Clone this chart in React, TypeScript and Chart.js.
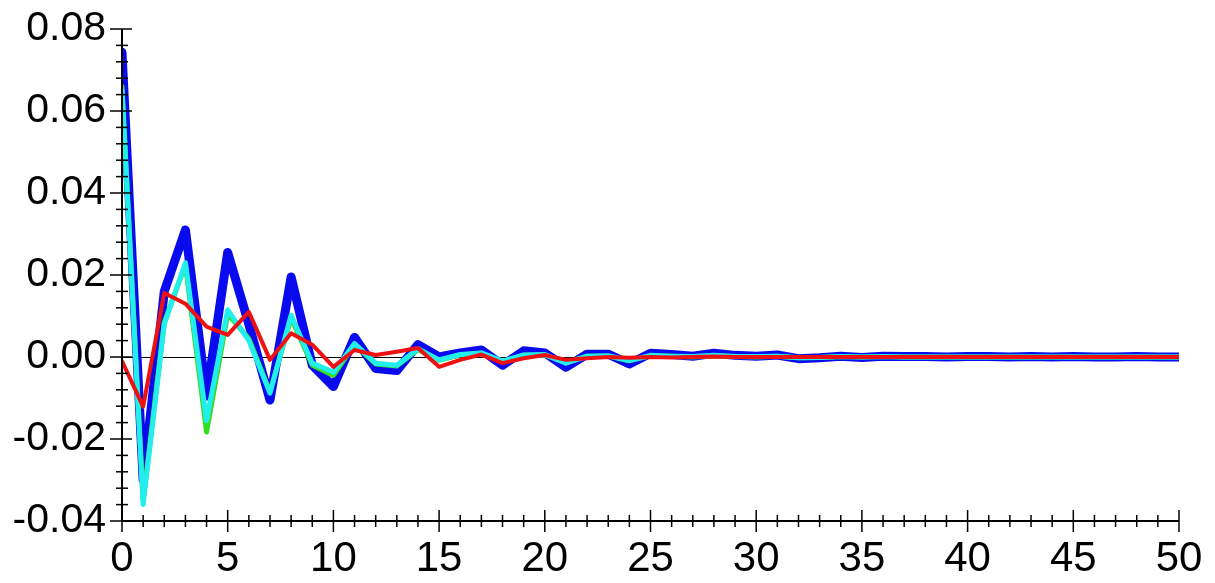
import React, { useEffect, useRef } from "react";
import { Chart, registerables } from "chart.js";

Chart.register(...registerables);

const lags: number[] = Array.from({ length: 51 }, (_, i) => i);

const blueValues: number[] = [
  0.0743, -0.030, 0.016, 0.031, -0.0095, 0.0255, 0.008, -0.0105, 0.0195, -0.002,
  -0.0072, 0.0048, -0.0028, -0.0033, 0.003, 0.0, 0.001, 0.0017, -0.002, 0.0015,
  0.001, -0.0025, 0.0007, 0.0007, -0.0017, 0.0009, 0.0006, 0.0002, 0.0009, 0.0004,
  0.0002, 0.0005, -0.0004, -0.0002, 0.0002, -0.0001, 0.0002, 0.0001, 0.0001, 0.0,
  0.0001, 0.0001, 0.0, 0.0001, 0.0, 0.0001, 0.0, 0.0, 0.0001, 0.0, 0.0,
];

const greenValues: number[] = [
  0.066, -0.035, 0.0085, 0.0225, -0.0183, 0.0105, 0.0045, -0.0085, 0.0095, -0.002,
  -0.0045, 0.003, -0.0017, -0.0022, 0.0018, -0.0008, 0.0005, 0.0009, -0.0011, 0.0004,
  0.0005, -0.0014, 0.0002, 0.0002, -0.0009, 0.0003, 0.0002, 0.0, 0.0003, 0.0001,
  0.0, 0.0002, -0.0002, -0.0001, 0.0001, 0.0, 0.0001, 0.0, 0.0, 0.0,
  0.0, 0.0, 0.0, 0.0, 0.0, 0.0, 0.0, 0.0, 0.0, 0.0, 0.0,
];

const cyanValues: number[] = [
  0.065, -0.036, 0.008, 0.023, -0.0155, 0.0115, 0.004, -0.0088, 0.0102, -0.0015,
  -0.0037, 0.0033, -0.0015, -0.002, 0.002, -0.0007, 0.0006, 0.001, -0.001, 0.0005,
  0.0006, -0.0015, 0.0002, 0.0003, -0.0009, 0.0004, 0.0002, 0.0001, 0.0004, 0.0001,
  0.0001, 0.0002, -0.0002, -0.0001, 0.0001, 0.0, 0.0001, 0.0, 0.0, 0.0,
  0.0, 0.0, 0.0, 0.0, 0.0, 0.0, 0.0, 0.0, 0.0, 0.0, 0.0,
];

const redValues: number[] = [
  -0.001, -0.0121, 0.0156, 0.013, 0.0074, 0.0054, 0.011, -0.0007, 0.0058, 0.003,
  -0.0024, 0.0017, 0.0005, 0.0013, 0.0022, -0.0024, -0.0007, 0.0006, -0.0015, -0.0003,
  0.0005, -0.0007, -0.0003, 0.0, -0.0002, 0.0, -0.0001, 0.0, 0.0001, 0.0,
  0.0, 0.0, 0.0, 0.0, 0.0, 0.0, 0.0, 0.0, 0.0, 0.0,
  0.0, 0.0, 0.0, 0.0, 0.0, 0.0, 0.0, 0.0, 0.0, 0.0, 0.0,
];

const xMajorStep = 5;
const xMinorStep = 1;
const yMajorStep = 0.02;
const yMinorStep = 0.004;
const xMin = 0;
const xMax = 50;
const yMin = -0.04;
const yMax = 0.08;

const FONT = "'Liberation Sans', Arial, Helvetica, sans-serif";

const axesPlugin = {
  id: "crossAxes",
  beforeDatasetsDraw(chart: any) {
    const { ctx, scales } = chart;
    const xs = scales.x;
    const ys = scales.y;
    ctx.save();
    ctx.strokeStyle = "#000";
    ctx.lineWidth = 1;
    const y0 = Math.round(ys.getPixelForValue(0)) + 0.5;
    ctx.beginPath();
    ctx.moveTo(xs.getPixelForValue(xMin), y0);
    ctx.lineTo(xs.getPixelForValue(xMax), y0);
    ctx.stroke();
    ctx.restore();
  },
  afterDatasetsDraw(chart: any) {
    const { ctx, scales } = chart;
    const xs = scales.x;
    const ys = scales.y;
    const xAxisY = ys.getPixelForValue(yMin);
    const yAxisX = xs.getPixelForValue(xMin);
    ctx.save();
    ctx.strokeStyle = "#000";
    ctx.lineWidth = 2;
    ctx.beginPath();
    ctx.moveTo(yAxisX, ys.getPixelForValue(yMax));
    ctx.lineTo(yAxisX, xAxisY);
    ctx.lineTo(xs.getPixelForValue(xMax), xAxisY);
    ctx.stroke();
    ctx.lineWidth = 1.5;
    const nx = Math.round((xMax - xMin) / xMinorStep);
    for (let i = 0; i <= nx; i++) {
      const v = xMin + i * xMinorStep;
      const major = Math.abs(v / xMajorStep - Math.round(v / xMajorStep)) < 1e-9;
      const len = major ? 11 : 6;
      const px = xs.getPixelForValue(v);
      ctx.beginPath();
      ctx.moveTo(px, xAxisY - len);
      ctx.lineTo(px, xAxisY + len);
      ctx.stroke();
    }
    const ny = Math.round((yMax - yMin) / yMinorStep);
    for (let i = 0; i <= ny; i++) {
      const v = yMin + i * yMinorStep;
      const major = Math.abs(v / yMajorStep - Math.round(v / yMajorStep)) < 1e-6;
      const py = ys.getPixelForValue(v);
      ctx.beginPath();
      if (major) {
        ctx.moveTo(yAxisX - 12, py);
        ctx.lineTo(yAxisX + 10, py);
      } else {
        ctx.moveTo(yAxisX - 6, py);
        ctx.lineTo(yAxisX + 6, py);
      }
      ctx.stroke();
    }
    ctx.restore();
  },
};

export default function App() {
  const ref = useRef<HTMLCanvasElement | null>(null);
  useEffect(() => {
    if (!ref.current) return;
    const mk = (label: string, data: number[], color: string, width: number) => ({
      label,
      data: lags.map((x, i) => ({ x, y: data[i] })),
      borderColor: color,
      backgroundColor: color,
      borderWidth: width,
      pointRadius: 0,
      tension: 0,
      borderCapStyle: "round" as const,
      borderJoinStyle: "round" as const,
      fill: false,
    });
    const chart = new Chart(ref.current, {
      type: "line",
      data: {
        datasets: [
          mk("red", redValues, "#ee1111", 4),
          mk("cyan", cyanValues, "#22eeee", 5),
          mk("green", greenValues, "#33dd22", 5),
          mk("blue", blueValues, "#0a0aee", 9),
        ],
      },
      options: {
        responsive: false,
        animation: false,
        layout: { padding: { top: 29, right: 36, left: 0, bottom: 0 } },
        plugins: { legend: { display: false }, tooltip: { enabled: false } },
        scales: {
          x: {
            type: "linear",
            min: xMin,
            max: xMax,
            border: { display: false },
            grid: { display: false, drawTicks: false },
            ticks: {
              stepSize: xMajorStep,
              color: "#000",
              padding: 13,
              maxRotation: 0,
              font: { family: FONT, size: 42 },
              callback: (v: any) => String(v),
            },
            afterFit: (s: any) => {
              s.height = 62;
              s.paddingLeft = 0;
              s.paddingRight = 0;
            },
          },
          y: {
            type: "linear",
            min: yMin,
            max: yMax,
            border: { display: false },
            grid: { display: false, drawTicks: false },
            ticks: {
              stepSize: yMajorStep,
              color: "#000",
              padding: 16,
              font: { family: FONT, size: 41 },
              callback: (v: any) => Number(v).toFixed(2),
            },
            afterFit: (s: any) => {
              s.width = 122;
              s.paddingTop = 0;
              s.paddingBottom = 0;
            },
          },
        },
      },
      plugins: [axesPlugin],
    });
    return () => chart.destroy();
  }, []);
  return (
    <canvas
      ref={ref}
      width={1215}
      height={583}
      style={{ position: "fixed", left: 0, top: 0, width: 1215, height: 583, display: "block", background: "#fff" }}
    />
  );
}
